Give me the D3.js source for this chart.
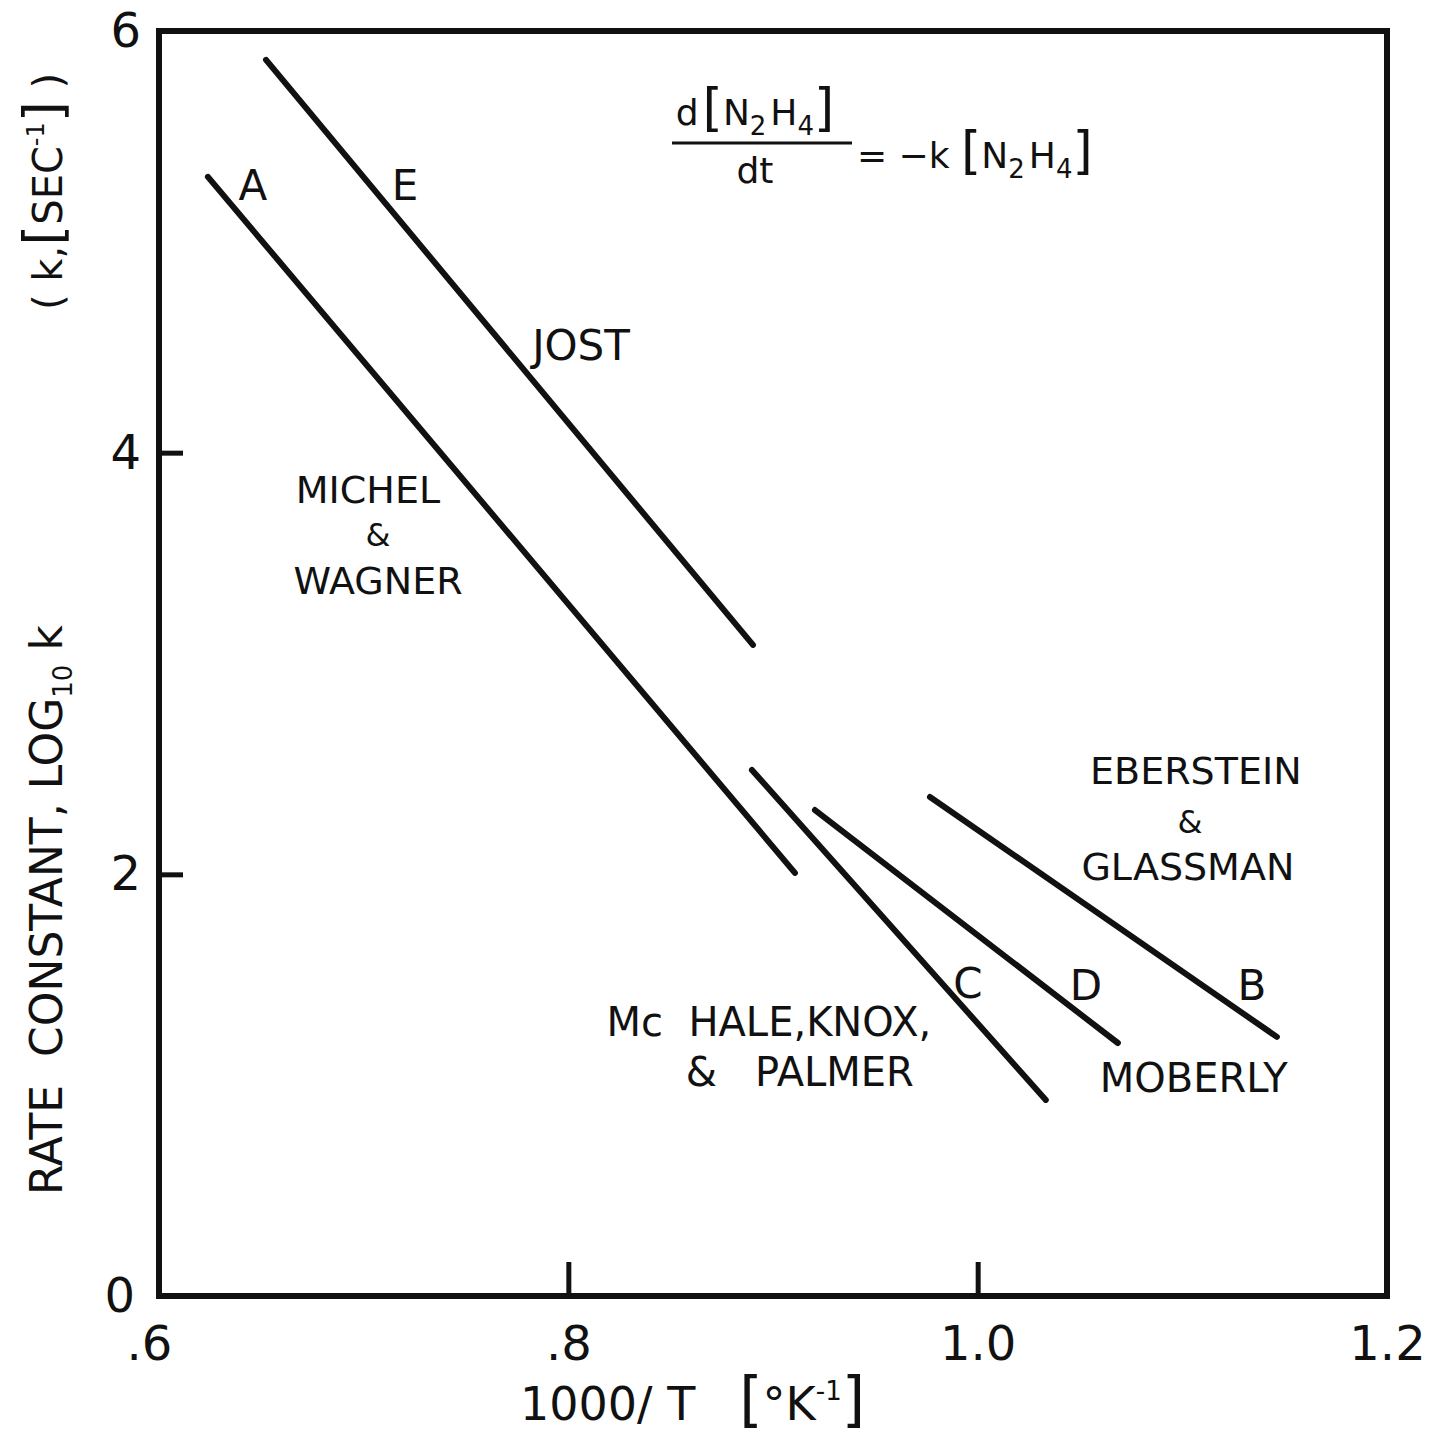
<!DOCTYPE html>
<html>
<head>
<meta charset="utf-8">
<script src="https://cdn.jsdelivr.net/npm/d3@7"></script>
<style>
  body { margin: 0; background: #fff; }
  svg { display: block; }
  text { font-family: "DejaVu Sans", sans-serif; fill: #111; }
</style>
</head>
<body>
<div id="chart"></div>
<script>
// line segments, [1000/T, log10 k]
var lineIds   = ['E', 'A', 'C', 'D', 'B'];
var lineStart = [[0.6523, 5.863], [0.6239, 5.308], [0.8897, 2.495], [0.9205, 2.305], [0.9767, 2.367]];
var lineEnd   = [[0.8902, 3.088], [0.9107, 2.007], [1.0333, 0.930], [1.0685, 1.200], [1.1462, 1.229]];

var xTicks = [0.6, 0.8, 1.0, 1.2];
var xTickLabels = ['.6', '.8', '1.0', '1.2'];
var yTicks = [0, 2, 4, 6];

var labelText = ['A', 'E', 'JOST', 'MICHEL', '&', 'WAGNER', 'EBERSTEIN', '&', 'GLASSMAN',
                 'C', 'D', 'B', 'Mc  HALE,KNOX,', '&   PALMER', 'MOBERLY'];
var labelX = [0.6459, 0.7202, 0.8062, 0.7021, 0.7070, 0.7070, 1.1066, 1.1037, 1.1027,
              0.9952, 1.0529, 1.1340, 0.8980, 0.9131, 1.1056];
var labelY = [5.270, 5.270, 4.511, 3.824, 3.610, 3.396, 2.491, 2.249, 2.039,
              1.485, 1.475, 1.475, 1.300, 1.063, 1.034];
var labelSize = [42, 42, 42, 38, 32, 38, 38, 32, 38, 42, 42, 42, 40, 40, 40];

var width = 1434, height = 1440;
var margin = {left: 159, top: 31, right: 47, bottom: 144};

var svg = d3.select('#chart').append('svg')
    .attr('width', width)
    .attr('height', height);

var x = d3.scaleLinear().domain([0.6, 1.2]).range([margin.left, width - margin.right]);
var y = d3.scaleLinear().domain([0, 6]).range([height - margin.bottom, margin.top]);

// ticks point inward, labels outside
var xAxis = svg.append('g')
    .attr('transform', 'translate(0,' + y(0) + ')')
    .call(d3.axisBottom(x).tickValues(xTicks).tickSize(-34).tickPadding(30)
        .tickFormat(function(d, i) { return xTickLabels[i]; }));
var yAxis = svg.append('g')
    .attr('transform', 'translate(' + x(0.6) + ',0)')
    .call(d3.axisLeft(y).tickValues(yTicks).tickSize(-24).tickPadding(18)
        .tickFormat(d3.format('d')));

[xAxis, yAxis].forEach(function(g) {
    g.select('.domain').remove();
    g.selectAll('line').attr('stroke', '#111').attr('stroke-width', 5);
    g.selectAll('text').style('font-size', '48px').attr('fill', '#111');
});
// the ".6" and "0" sit a bit left of their ticks in the original
xAxis.selectAll('.tick text').filter(function(d) { return d === 0.6; }).attr('dx', -10);
yAxis.selectAll('.tick text').filter(function(d) { return d === 0; }).attr('dx', -6);

// frame
svg.append('rect')
    .attr('x', x(0.6)).attr('y', y(6))
    .attr('width', x(1.2) - x(0.6)).attr('height', y(0) - y(6))
    .attr('fill', 'none').attr('stroke', '#111').attr('stroke-width', 6);

// the rate lines
svg.selectAll('.rate')
    .data(lineIds)
    .enter().append('line')
    .attr('class', 'rate')
    .attr('x1', function(d, i) { return x(lineStart[i][0]); })
    .attr('y1', function(d, i) { return y(lineStart[i][1]); })
    .attr('x2', function(d, i) { return x(lineEnd[i][0]); })
    .attr('y2', function(d, i) { return y(lineEnd[i][1]); })
    .attr('stroke', '#111')
    .attr('stroke-width', 6)
    .attr('stroke-linecap', 'round');

svg.selectAll('.lbl')
    .data(labelText)
    .enter().append('text')
    .attr('class', 'lbl')
    .attr('x', function(d, i) { return x(labelX[i]); })
    .attr('y', function(d, i) { return y(labelY[i]); })
    .attr('dy', '0.36em')
    .attr('text-anchor', 'middle')
    .style('font-size', function(d, i) { return labelSize[i] + 'px'; })
    .style('white-space', 'pre')
    .text(function(d) { return d; });

// rate equation, top of the plot
var eq = svg.append('g').attr('transform', 'translate(' + x(0.6) + ',' + y(6) + ')');
var num = eq.append('text').attr('x', 596).attr('y', 94).attr('text-anchor', 'middle').style('font-size', '36px');
num.append('tspan').text('d');
num.append('tspan').style('font-size', '52px').attr('dx', 4).text('[');
num.append('tspan').text('N');
num.append('tspan').style('font-size', '26px').attr('dy', 10).text('2');
num.append('tspan').attr('dy', -10).attr('dx', 4).text('H');
num.append('tspan').style('font-size', '26px').attr('dy', 10).text('4');
num.append('tspan').style('font-size', '52px').attr('dy', -10).text(']');
eq.append('line').attr('x1', 513).attr('x2', 693).attr('y1', 112).attr('y2', 112)
    .attr('stroke', '#111').attr('stroke-width', 3);
eq.append('text').attr('x', 596).attr('y', 152).attr('text-anchor', 'middle').style('font-size', '36px').text('dt');
var rhs = eq.append('text').attr('x', 698).attr('y', 137).style('font-size', '36px');
rhs.append('tspan').text('= \u2212k ');
rhs.append('tspan').style('font-size', '52px').text('[');
rhs.append('tspan').text('N');
rhs.append('tspan').style('font-size', '26px').attr('dy', 10).text('2');
rhs.append('tspan').attr('dy', -10).attr('dx', 4).text('H');
rhs.append('tspan').style('font-size', '26px').attr('dy', 10).text('4');
rhs.append('tspan').style('font-size', '52px').attr('dy', -10).text(']');

// axis titles
var xt = svg.append('text')
    .attr('x', 520).attr('y', 1420)
    .style('font-size', '46px')
    .style('white-space', 'pre');
xt.append('tspan').text('1000/ T   ');
xt.append('tspan').style('font-size', '60px').text('[');
xt.append('tspan').text('\u00b0K');
xt.append('tspan').style('font-size', '26px').attr('dy', -20).text('-1');
xt.append('tspan').style('font-size', '60px').attr('dy', 20).text(']');

var yt = svg.append('text')
    .attr('transform', 'translate(62,1195) rotate(-90)')
    .style('font-size', '44px')
    .style('white-space', 'pre');
yt.append('tspan').text('RATE  CONSTANT, LOG');
yt.append('tspan').style('font-size', '26px').attr('dy', 10).text('10');
yt.append('tspan').attr('dy', -10).text(' k');

var yu = svg.append('text')
    .attr('transform', 'translate(62,310) rotate(-90)')
    .style('font-size', '40px')
    .style('white-space', 'pre');
yu.append('tspan').text('( k,');
yu.append('tspan').style('font-size', '54px').text('[');
yu.append('tspan').text('SEC');
yu.append('tspan').style('font-size', '24px').attr('dy', -18).text('-1');
yu.append('tspan').style('font-size', '54px').attr('dy', 18).text(']');
yu.append('tspan').text(' )');
</script>
</body>
</html>
